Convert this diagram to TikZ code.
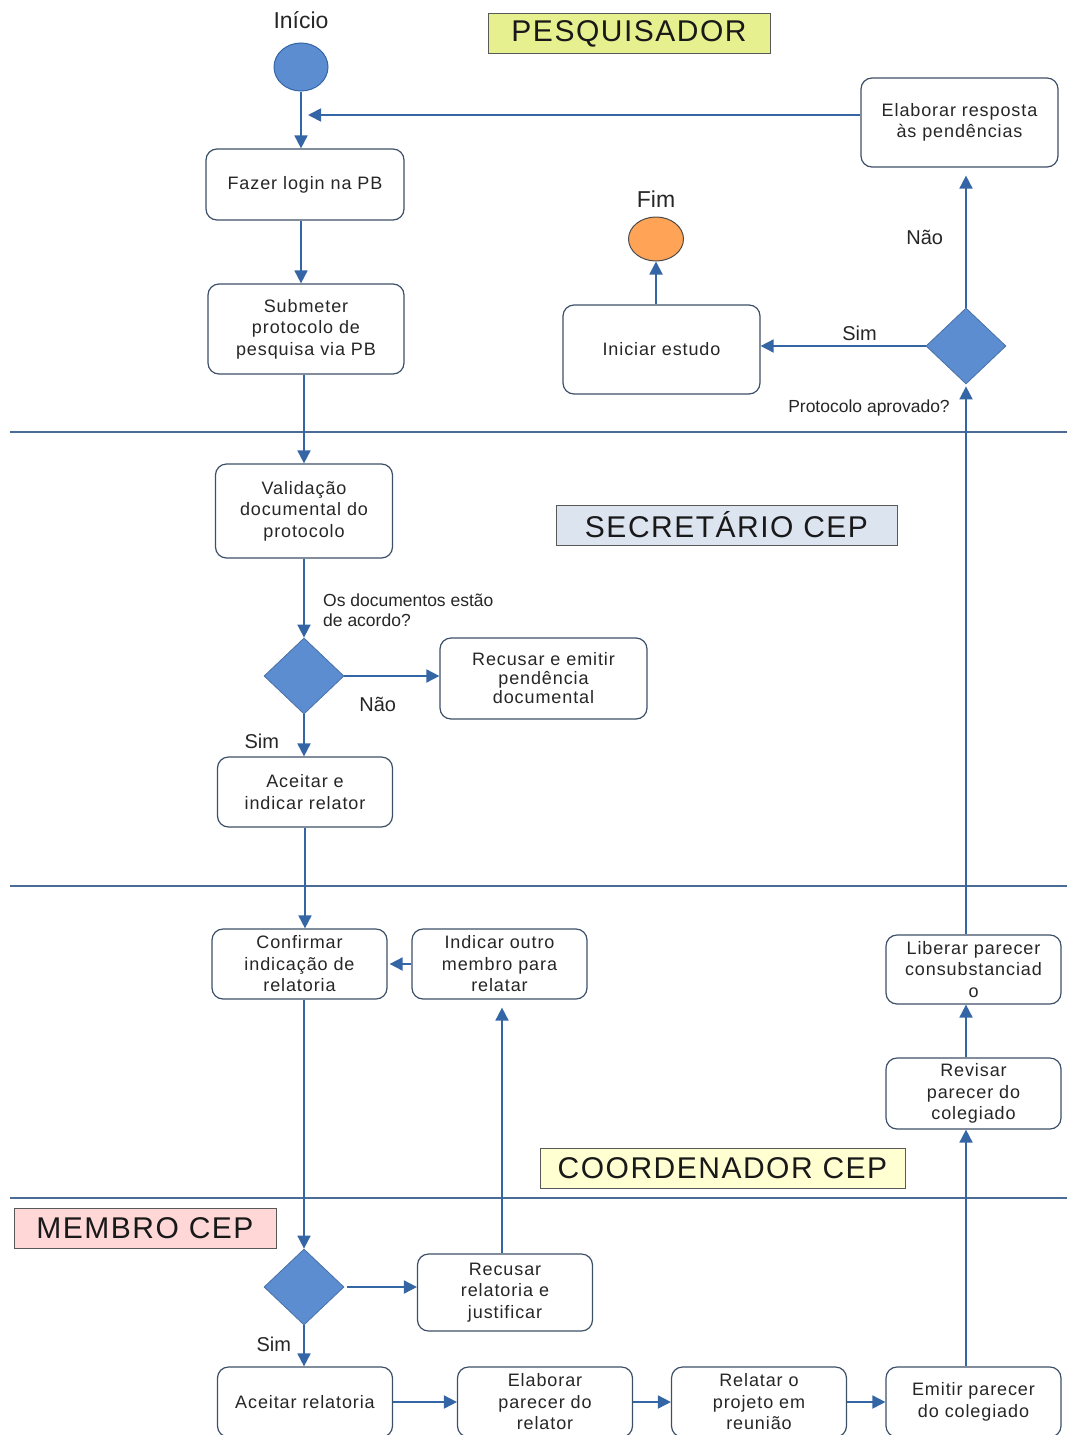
\documentclass[tikz,border=0pt]{standalone}
\usepackage{fontspec}
\setmainfont{Liberation Sans}
\newfontfamily\boxfont[LetterSpace=5]{Liberation Sans}
\usetikzlibrary{shapes.geometric,arrows.meta,positioning}
\definecolor{flowblue}{RGB}{52,101,164}
\definecolor{diamblue}{RGB}{92,141,208}
\definecolor{boxline}{RGB}{62,80,104}
\definecolor{laneline}{RGB}{74,108,150}
\definecolor{endorange}{RGB}{255,163,86}
\definecolor{pesqfill}{RGB}{230,240,142}
\definecolor{secfill}{RGB}{220,228,240}
\definecolor{coordfill}{RGB}{255,255,210}
\definecolor{membfill}{RGB}{255,215,215}
\begin{document}
\begin{tikzpicture}[x=1pt,y=-1pt,
  box/.style={draw=boxline,line width=1.2pt,rounded corners=11pt,fill=white,
    minimum width=175pt,minimum height=70pt,inner sep=2pt,text=black!85,
    font=\boxfont\fontsize{18}{21.5}\selectfont,align=center},
  decision/.style={diamond,draw=diamblue!80!black,fill=diamblue,line width=0.8pt,
    minimum width=80pt,minimum height=76pt,inner sep=0pt},
  lanetitle/.style={draw=gray!70!black,line width=1pt,minimum height=40pt,
    inner sep=0pt,text=black!90,font=\boxfont\fontsize{30}{36}\selectfont},
  lane/.style={laneline,line width=1.3pt},
  arr/.style={-{Triangle[length=13pt,width=13pt]},flowblue,line width=1.8pt},
  lbl/.style={font=\fontsize{20}{24}\selectfont,inner sep=0pt,text=black!85},
  note/.style={font=\fontsize{17.5}{20}\selectfont,inner sep=0pt,align=left,text=black!85}]
  \useasboundingbox (0,0) rectangle (1067,1435);
  % raias
  \draw[lane] (10,432) -- (1067,432);
  \draw[lane] (10,886) -- (1067,886);
  \draw[lane] (10,1198) -- (1067,1198);
  \node[lanetitle,fill=pesqfill,minimum width=282pt] (tpesq) at (629,33.5) {PESQUISADOR};
  \node[lanetitle,fill=secfill,minimum width=341pt] (tsec) at (726.5,525) {SECRETÁRIO CEP};
  \node[lanetitle,fill=coordfill,minimum width=365pt] (tcoord) at (722.5,1168.5) {COORDENADOR CEP};
  \node[lanetitle,fill=membfill,minimum width=262pt] (tmemb) at (145,1228.5) {MEMBRO CEP};

  % pesquisador
  \node[ellipse,draw=flowblue,line width=1pt,fill=diamblue,minimum width=54pt,minimum height=48pt] (start) at (301,67) {};
  \node[lbl,font=\fontsize{23}{26}\selectfont] (startlbl) at (301,20) {Início};
  \node[box,minimum width=198pt,minimum height=71pt] (login) at (305,184.5) {Fazer login na PB};
  \node[box,minimum width=196pt,minimum height=90pt] (subm) at (306,329) {Submeter\\protocolo de\\pesquisa via PB};
  \node[box,minimum width=197pt,minimum height=89pt] (resposta) at (959.5,122.5) {Elaborar resposta\\às pendências};
  \node[decision] (dec3) at (966,346) {};
  \node[box,minimum width=197pt,minimum height=89pt] (iniciar) at (661.5,349.5) {Iniciar estudo};
  \node[ellipse,draw=black!70,line width=1pt,fill=endorange,minimum width=55pt,minimum height=44pt] (fim) at (656,239) {};
  \node[lbl,font=\fontsize{23}{26}\selectfont] (fimlbl) at (656,199) {Fim};
  \node[note] (aprov) at (869,408) {Protocolo aprovado?};

  % secretario
  \node[box,minimum width=177pt,minimum height=94pt] (valid) at (304,511) {Validação\\documental do\\protocolo};
  \node[decision] (dec1) at (304,676) {};
  \node[note,anchor=north west] (docq) at (323,594) {Os documentos estão\\de acordo?};
  \node[box,minimum width=207pt,minimum height=81pt,font=\boxfont\fontsize{18}{19}\selectfont] (recdoc) at (543.5,678.5) {Recusar e emitir\\pendência\\documental};
  \node[box] (aceitar) at (305,792) {Aceitar e\\indicar relator};

  % coordenador
  \node[box] (confirm) at (299.5,964) {Confirmar\\indicação de\\relatoria};
  \node[box] (outro) at (499.5,964) {Indicar outro\\membro para\\relatar};
  \node[box,minimum height=69pt] (liberar) at (973.5,969.5) {Liberar parecer\\consubstanciad\\o};
  \node[box,minimum height=71pt] (revisar) at (973.5,1093.5) {Revisar\\parecer do\\colegiado};

  % membro
  \node[decision] (dec2) at (304,1287) {};
  \node[box,minimum height=77pt] (recrel) at (505,1292.5) {Recusar\\relatoria e\\justificar};
  \node[box] (acrel) at (305,1402) {Aceitar relatoria};
  \node[box] (elabrel) at (545,1402) {Elaborar\\parecer do\\relator};
  \node[box] (relatar) at (759,1402) {Relatar o\\projeto em\\reunião};
  \node[box] (emitir) at (973.5,1402) {Emitir parecer\\do colegiado};

  % fluxo
  \coordinate (back) at (308,115);
  \draw[arr] (start) -- (start |- login.north);
  \draw[arr] (resposta.west |- back) -- (back);
  \draw[arr] (login.south -| start) -- (start |- subm.north);
  \draw[arr] (subm.south -| valid) -- (valid.north);
  \draw[arr] (valid.south -| dec1) -- (dec1.north);
  \draw[arr] (dec1.east) -- (recdoc.west |- dec1)
    node[lbl,pos=0.35,below=20pt] {Não};
  \draw[arr] (dec1.south) -- (dec1 |- aceitar.north)
    node[lbl,pos=0.65,left=24pt] {Sim};
  \draw[arr] (aceitar.south) -- (aceitar.south |- confirm.north);
  \draw[arr,shorten >=2pt] (outro.west) -- (confirm.east);
  \draw[arr] (confirm.south -| dec2) -- (dec2.north);
  \draw[arr,shorten <=3pt] (dec2.east) -- (recrel.west |- dec2);
  \draw[arr] (dec2.south) -- (dec2 |- acrel.north)
    node[lbl,pos=0.45,left=12pt] {Sim};
  \draw[arr,shorten >=8pt] (recrel.north -| 502,0) -- (outro.south -| 502,0);
  \draw[arr] (acrel.east) -- (elabrel.west);
  \draw[arr] (elabrel.east) -- (relatar.west);
  \draw[arr] (relatar.east) -- (emitir.west);
  \draw[arr] (emitir.north -| dec3) -- (dec3 |- revisar.south);
  \draw[arr] (revisar.north -| dec3) -- (dec3 |- liberar.south);
  \draw[arr,shorten >=2pt] (liberar.north -| dec3) -- (dec3.south);
  \draw[arr] (dec3.west) -- (iniciar.east |- dec3)
    node[lbl,pos=0.4,above=4pt] {Sim};
  \draw[arr,shorten >=8pt] (dec3.north) -- (dec3 |- resposta.south)
    node[lbl,pos=0.5,left=22pt] {Não};
  \draw[arr] (iniciar.north -| fim) -- (fim.south);
\end{tikzpicture}
\end{document}
